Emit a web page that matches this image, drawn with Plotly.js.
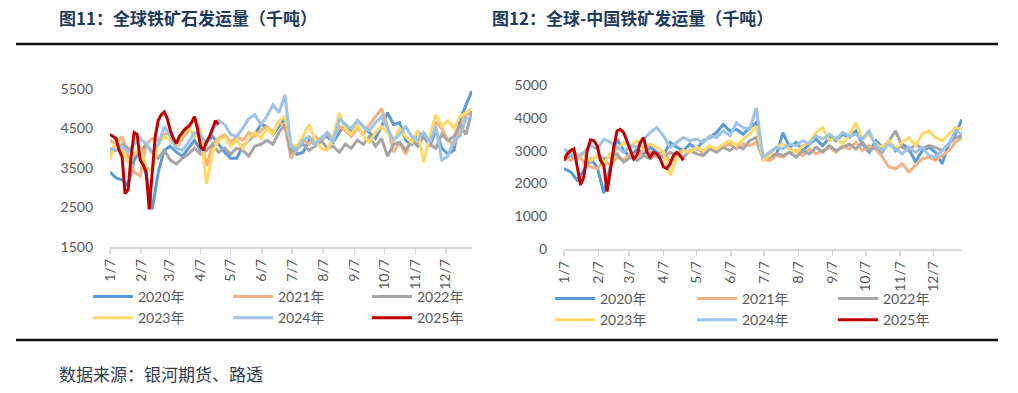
<!DOCTYPE html>
<html><head><meta charset="utf-8">
<script src="https://cdn.plot.ly/plotly-3.0.1.min.js"></script>
<style>html,body{margin:0;padding:0;background:#fff}#chart{width:1018px;height:393px}</style>
</head><body><div id="chart"></div>
<script>
const yearNames = ['2020年','2021年','2022年','2023年','2024年','2025年'];
const yearColors = ['#5B9BD5','#F4B183','#A5A5A5','#FFD966','#9DC3E6','#C00000'];
const tickLabels = ['1/7','2/7','3/7','4/7','5/7','6/7','7/7','8/7','9/7','10/7','11/7','12/7'];
const stepDays = 6;      // full-year series sampling
const stepDays2025 = 3;  // 2025 series sampling

// 图11 全球铁矿石发运量（千吨）
const global2020 = [3400,3250,3200,3050,3700,3950,3300,2450,3400,3950,4050,3900,3800,4000,4200,3950,4150,4300,4100,3900,3750,3750,4050,4200,4350,4600,4550,4350,4550,4750,4000,3850,3900,4200,4100,4250,4300,4150,4400,4600,4450,4700,4550,4400,4250,4550,4900,4600,4650,4200,4100,4400,4300,4050,4450,4000,3850,3950,4700,5100,5450];
const global2021 = [4200,4100,4300,3800,3400,3300,4100,4250,4200,4350,4400,4000,4250,4450,4800,4350,3550,4100,4250,4350,4150,4300,4200,4400,4300,4450,4550,4400,4650,4550,3750,4000,4200,4100,4300,4150,4400,4250,4550,4450,4300,4500,4350,4600,4800,5000,4550,3900,4150,3850,4200,4100,4300,4200,4650,4500,4200,4100,4500,4850,4900];
const global2022 = [3900,3950,4100,4000,3850,3900,4100,3900,3750,3950,3700,3600,3750,3850,4000,3850,3950,4100,3900,4000,3850,4000,3950,3800,4050,4100,4200,4100,4400,4600,3900,4000,4100,3950,4050,4200,4000,4050,3900,4100,4000,4200,4100,4300,4050,4250,3800,4100,4150,3950,4200,4050,4300,4100,4000,4350,4200,4300,4600,4350,4950];
const global2023 = [3700,4250,3950,3650,3850,4000,3500,3450,4100,4300,4200,4050,4350,4500,4300,4450,3100,3900,4200,4300,4050,4200,4000,4250,4400,4250,4500,4350,4700,4800,4100,4050,4300,4600,4200,4000,3950,4300,4900,4500,4350,4600,4300,4150,4400,4550,4400,4200,4500,4300,4150,4450,3650,4300,4850,4550,4700,4500,4800,4900,5000];
const global2024 = [4000,3950,4050,3900,4100,4250,4100,3900,4100,4550,4300,4000,3950,4150,4400,4350,4100,4450,4700,4600,4350,4300,4500,4750,4850,4600,4800,5100,4900,5350,4050,3950,4200,4300,4100,4250,4400,4150,4750,4600,4500,4700,4550,4450,4650,4800,4500,4200,4350,4550,4300,4200,4400,4150,4550,3700,3800,4200,4300,4750,4800];
const global2025 = [4350,4300,4250,3950,3780,2850,2950,3800,4400,4350,3700,3580,3400,2450,3300,4300,4710,4850,4920,4750,4450,4250,4120,4300,4400,4500,4550,4650,4800,4500,4050,3950,4160,4300,4500,4700,4600];

// 图12 全球-中国铁矿发运量（千吨）
const china2020 = [2450,2350,2100,2400,2750,2500,1700,2500,3350,3000,2800,3050,2900,3100,2950,2850,3250,3100,3000,3200,3050,3300,3400,3550,3800,3600,3650,3500,3700,3850,2750,2700,2850,3550,3100,3250,3000,3200,3350,3150,3400,3300,3500,3400,3600,3200,2950,3300,3100,3300,3000,3200,3050,2650,3000,3100,2950,2600,3200,3500,3950];
const china2021 = [2800,2700,2900,2650,2500,2450,2700,2550,2800,2700,2900,2850,3000,2950,2800,2950,2650,2900,3000,2950,3100,2900,3050,3000,3100,3200,3050,3200,3150,3250,2750,2700,2850,2800,2950,3000,2850,3050,2900,3000,3100,2950,3150,3050,3250,3000,3150,3050,2800,2500,2450,2600,2350,2550,2750,2800,2700,2850,3000,3250,3400];
const china2022 = [2700,2850,2750,2900,2650,2850,2750,2800,2900,2650,2800,2700,2850,2750,2900,2800,2950,2850,2800,3000,2900,2850,3050,2950,3100,3000,3150,3050,3300,3400,2750,2800,2900,2850,2950,2800,3000,2900,3100,2950,3150,3000,3100,3200,3050,3250,3000,3100,2950,3300,3600,3100,3000,3200,3050,3150,3100,3000,3200,3400,3450];
const china2023 = [2800,3000,2750,2900,2700,2850,2600,2900,3050,3250,3100,3300,3050,3200,3100,2950,2250,2800,3000,2950,3100,3000,3150,3050,3200,3300,3150,3350,3500,3750,2700,2850,3100,3200,3050,2950,3150,3250,3550,3700,3300,3400,3200,3450,3850,3350,3500,3200,3100,3300,3050,3250,3400,3150,3500,3600,3400,3300,3500,3700,3650];
const china2024 = [3050,2900,2800,2950,3150,3050,3350,3250,3100,2950,3150,3100,3350,3550,3700,3450,3100,3250,3400,3300,3350,3250,3450,3400,3600,3450,3850,3700,3650,4300,2800,2950,3100,3050,3200,3150,3300,3200,3450,3350,3500,3350,3550,3450,3500,3350,3600,3150,3000,3200,3050,2900,3100,2950,3100,2850,2800,3000,3200,3600,3500];
const china2025 = [2700,2900,3000,3050,2500,1950,2200,3000,3330,3300,3150,2700,2550,1750,2400,3100,3600,3650,3550,3300,3050,2750,2850,3250,3400,2950,2800,2950,2900,2750,2500,2450,2600,2850,2950,2850,2700];

const globalSeries = [global2020,global2021,global2022,global2023,global2024,global2025];
const chinaSeries = [china2020,china2021,china2022,china2023,china2024,china2025];

function makeDates(n, step){
  const start = Date.UTC(2021,0,7);
  return Array.from({length:n},(_,i)=>new Date(start+i*step*86400000).toISOString().slice(0,10));
}
const tickVals = tickLabels.map((t,i)=>'2021-'+String(i+1).padStart(2,'0')+'-07');
const xRange = ['2021-01-07','2022-01-02'];
const columnOf = [0,1,2,0,1,2];

const traces = [];
function addSeries(seriesList, xa, ya, legendIds){
  seriesList.forEach((vals,i)=>{
    const step = i===5 ? stepDays2025 : stepDays;
    traces.push({
      type:'scatter', mode:'lines', name:yearNames[i],
      x:makeDates(vals.length, step), y:vals,
      xaxis:xa, yaxis:ya, legend:legendIds[columnOf[i]],
      line:{color:yearColors[i], width:3},
      hoverinfo:'skip'
    });
  });
}
addSeries(globalSeries,'x','y',['legend','legend2','legend3']);
addSeries(chinaSeries,'x2','y2',['legend4','legend5','legend6']);

const W=1018,H=393;
const px=v=>v/W, py=v=>1-v/H;
const tickFont = {family:'Lato, "Noto Sans CJK SC", sans-serif', size:14, color:'#595959'};
const xCommon = {type:'date', range:xRange, tickmode:'array', tickvals:tickVals, ticktext:tickLabels,
  tickangle:-90, showline:true, linecolor:'#D9D9D9', linewidth:1.5, ticks:'outside', ticklen:5,
  tickcolor:'#D9D9D9', tickwidth:1.5, showgrid:false, zeroline:false, tickfont:tickFont, fixedrange:true};
const yCommon = {showline:false, showgrid:false, zeroline:false, ticks:'', tickfont:tickFont,
  ticklabelstandoff:16, fixedrange:true};
const legendCommon = {orientation:'v', xanchor:'left', yanchor:'top', itemwidth:40, tracegroupgap:0,
  font:{family:'Lato, "Noto Sans CJK SC", sans-serif', size:14, color:'#595959'}, bgcolor:'rgba(0,0,0,0)'};
const L = (x,y)=>Object.assign({}, legendCommon, {x:px(x), y:py(y)});
const titleFont = {family:'"Noto Sans CJK SC", sans-serif', size:17, color:'#1F3B5C', weight:'bold'};

const layout = {
  width:W, height:H, margin:{l:0,r:0,t:0,b:0,autoexpand:false}, paper_bgcolor:'#fff', plot_bgcolor:'#fff',
  showlegend:true,
  xaxis:Object.assign({}, xCommon, {domain:[px(110),px(472)], anchor:'y'}),
  yaxis:Object.assign({}, yCommon, {domain:[py(247),py(89)], range:[1500,5500], tickvals:[1500,2500,3500,4500,5500], anchor:'x'}),
  xaxis2:Object.assign({}, xCommon, {domain:[px(564),px(962)], anchor:'y2'}),
  yaxis2:Object.assign({}, yCommon, {domain:[py(249),py(85)], range:[0,5000], dtick:1000, anchor:'x2'}),
  legend:L(88,281), legend2:L(228,281), legend3:L(367,281),
  legend4:L(550,283), legend5:L(692,283), legend6:L(833,283),
  annotations:[
    {xref:'paper',yref:'paper',x:px(57),y:py(18),xanchor:'left',yanchor:'middle',showarrow:false,
     text:'图11：全球铁矿石发运量（千吨）', font:titleFont},
    {xref:'paper',yref:'paper',x:px(490),y:py(18),xanchor:'left',yanchor:'middle',showarrow:false,
     text:'图12：全球-中国铁矿发运量（千吨）', font:titleFont},
    {xref:'paper',yref:'paper',x:px(57),y:py(373),xanchor:'left',yanchor:'middle',showarrow:false,
     text:'数据来源：银河期货、路透', font:{family:'"Noto Sans CJK SC", sans-serif', size:17, color:'#2F3B4C'}}
  ],
  shapes:[
    {type:'line',xref:'paper',yref:'paper',x0:px(16),x1:px(998),y0:py(44),y1:py(44),line:{color:'#111',width:2.5}},
    {type:'line',xref:'paper',yref:'paper',x0:px(16),x1:px(998),y0:py(340),y1:py(340),line:{color:'#111',width:2.5}}
  ]
};
Plotly.newPlot('chart', traces, layout, {staticPlot:true, displayModeBar:false});
</script></body></html>
